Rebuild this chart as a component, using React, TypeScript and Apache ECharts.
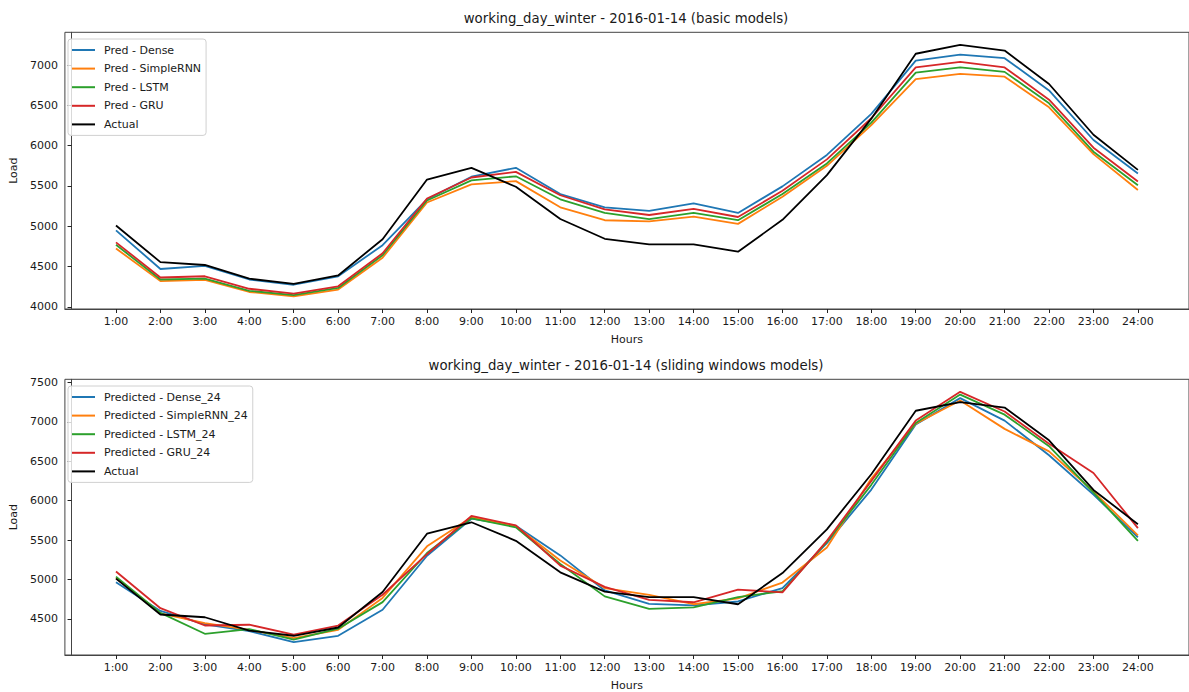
import React, { useEffect, useRef } from "react";
import * as echarts from "echarts";

const hourLabels = ["1:00","2:00","3:00","4:00","5:00","6:00","7:00","8:00","9:00","10:00","11:00","12:00","13:00","14:00","15:00","16:00","17:00","18:00","19:00","20:00","21:00","22:00","23:00","24:00"];
const hourTicks = [1,2,3,4,5,6,7,8,9,10,11,12,13,14,15,16,17,18,19,20,21,22,23,24];

const topTitle = "working_day_winter - 2016-01-14 (basic models)";
const bottomTitle = "working_day_winter - 2016-01-14 (sliding windows models)";

const topYTicks = [4000, 4500, 5000, 5500, 6000, 6500, 7000];
const bottomYTicks = [4500, 5000, 5500, 6000, 6500, 7000, 7500];

const actual = [5010, 4555, 4520, 4350, 4285, 4390, 4840, 5580, 5725, 5490, 5090, 4845, 4775, 4775, 4685, 5080, 5635, 6335, 7140, 7250, 7180, 6765, 6135, 5700];

const topNames = ["Pred - Dense", "Pred - SimpleRNN", "Pred - LSTM", "Pred - GRU", "Actual"];
const predDense = [4950, 4470, 4510, 4340, 4275, 4380, 4765, 5335, 5615, 5725, 5400, 5235, 5190, 5285, 5165, 5495, 5885, 6395, 7055, 7130, 7085, 6685, 6070, 5655];
const predSimpleRNN = [4725, 4320, 4335, 4185, 4130, 4215, 4610, 5295, 5520, 5560, 5235, 5075, 5060, 5120, 5030, 5365, 5750, 6255, 6825, 6890, 6855, 6475, 5895, 5450];
const predLSTM = [4770, 4340, 4350, 4200, 4145, 4235, 4640, 5320, 5570, 5620, 5335, 5165, 5090, 5165, 5075, 5400, 5780, 6285, 6905, 6970, 6915, 6525, 5925, 5510];
const predGRU = [4800, 4365, 4380, 4225, 4165, 4255, 4665, 5345, 5605, 5675, 5385, 5210, 5140, 5215, 5115, 5440, 5830, 6340, 6970, 7040, 6970, 6570, 5975, 5555];

const bottomNames = ["Predicted - Dense_24", "Predicted - SimpleRNN_24", "Predicted - LSTM_24", "Predicted - GRU_24", "Actual"];
const dense24 = [4965, 4600, 4430, 4345, 4205, 4285, 4615, 5300, 5770, 5680, 5305, 4860, 4690, 4670, 4720, 4890, 5460, 6140, 6965, 7300, 7015, 6575, 6075, 5535];
const simpleRNN24 = [5020, 4570, 4445, 4360, 4255, 4360, 4765, 5420, 5790, 5675, 5240, 4890, 4805, 4685, 4760, 4960, 5405, 6280, 6975, 7270, 6910, 6625, 6115, 5560];
const lstm24 = [5035, 4575, 4310, 4370, 4235, 4375, 4712, 5335, 5775, 5660, 5195, 4785, 4625, 4645, 4775, 4850, 5475, 6200, 6985, 7345, 7090, 6690, 6100, 5490];
const gru24 = [5100, 4635, 4415, 4425, 4300, 4415, 4805, 5320, 5805, 5685, 5175, 4905, 4740, 4710, 4870, 4835, 5490, 6250, 7015, 7380, 7130, 6720, 6350, 5650];

const colors = ["#1f77b4", "#ff7f0e", "#2ca02c", "#d62728", "#000000"];

const FONT = "DejaVu Sans";
const TEXT = "#1a1a1a";
const FS = 11;

function pairs(vals: number[]) {
  return vals.map((v, i) => [hourTicks[i], v]);
}

export default function App() {
  const ref = useRef<HTMLDivElement>(null);
  useEffect(() => {
    if (!ref.current) return;
    const chart = echarts.init(ref.current, undefined, { renderer: "svg" });

    const xAxisBase = (gridIndex: number) => ({
      type: "value",
      gridIndex,
      min: 1 - 1.15,
      max: 24 + 1.15,
      name: "Hours",
      nameLocation: "middle",
      nameGap: 25,
      nameTextStyle: { fontFamily: FONT, fontSize: FS, color: TEXT },
      axisLine: { show: true, lineStyle: { color: "#444", width: 1 } },
      axisTick: { show: true, length: 4, lineStyle: { color: "#222", width: 1 }, customValues: hourTicks },
      axisLabel: {
        show: true,
        margin: 7,
        fontFamily: FONT,
        fontSize: FS,
        color: TEXT,
        customValues: hourTicks,
        formatter: (v: number) => hourLabels[Math.round(v) - 1] ?? "",
      },
      splitLine: { show: false },
    });

    const yAxisBase = (gridIndex: number, min: number, max: number, ticks: number[]) => ({
      type: "value",
      gridIndex,
      min,
      max,
      name: "Load",
      nameLocation: "middle",
      nameGap: 34,
      nameTextStyle: { fontFamily: FONT, fontSize: FS, color: TEXT },
      axisLine: { show: true, lineStyle: { color: "#444", width: 1 } },
      axisTick: { show: true, length: 4, lineStyle: { color: "#222", width: 1 }, customValues: ticks },
      axisLabel: {
        show: true, margin: 7, fontFamily: FONT, fontSize: FS, color: TEXT, customValues: ticks,
        formatter: (v: number) => String(Math.round(v)),
      },
      splitLine: { show: false },
    });

    const mkSeries = (name: string, vals: number[], color: string, idx: number) => ({
      type: "line",
      name,
      xAxisIndex: idx,
      yAxisIndex: idx,
      data: pairs(vals),
      symbol: "none",
      showSymbol: false,
      lineStyle: { color, width: 1.8 },
      itemStyle: { color },
      emphasis: { disabled: true },
      silent: true,
    });

    const legendBase = (top: number, data: string[]) => ({
      orient: "vertical",
      left: 68,
      top,
      data,
      selectedMode: false,
      icon: "rect",
      itemWidth: 23,
      itemHeight: 2,
      itemGap: 4.6,
      padding: [4, 5, 4, 4],
      borderColor: "#d0d0d0",
      borderWidth: 1,
      borderRadius: 3,
      backgroundColor: "rgba(255,255,255,0.8)",
      textStyle: { fontFamily: FONT, fontSize: FS, color: TEXT, lineHeight: 14, padding: [0, 0, 0, 4] },
    });

    const option: any = {
      animation: false,
      title: [
        { text: topTitle, left: 626, top: 12, textAlign: "center", padding: 0, textStyle: { fontFamily: FONT, fontSize: 13.3, fontWeight: "normal", color: TEXT } },
        { text: bottomTitle, left: 626, top: 359, textAlign: "center", padding: 0, textStyle: { fontFamily: FONT, fontSize: 13.3, fontWeight: "normal", color: TEXT } },
      ],
      legend: [legendBase(39, topNames), legendBase(386, bottomNames)],
      grid: [
        { left: 62, top: 32.3, width: 1129, height: 276.7, show: true, borderColor: "#444", borderWidth: 1, backgroundColor: "transparent", containLabel: false },
        { left: 62, top: 379.3, width: 1129, height: 275.7, show: true, borderColor: "#444", borderWidth: 1, backgroundColor: "transparent", containLabel: false },
      ],
      xAxis: [xAxisBase(0), xAxisBase(1)],
      yAxis: [yAxisBase(0, 3974, 7406, topYTicks), yAxisBase(1, 4041, 7539, bottomYTicks)],
      series: [
        mkSeries(topNames[0], predDense, colors[0], 0),
        mkSeries(topNames[1], predSimpleRNN, colors[1], 0),
        mkSeries(topNames[2], predLSTM, colors[2], 0),
        mkSeries(topNames[3], predGRU, colors[3], 0),
        mkSeries(topNames[4], actual, colors[4], 0),
        mkSeries(bottomNames[0], dense24, colors[0], 1),
        mkSeries(bottomNames[1], simpleRNN24, colors[1], 1),
        mkSeries(bottomNames[2], lstm24, colors[2], 1),
        mkSeries(bottomNames[3], gru24, colors[3], 1),
        mkSeries(bottomNames[4], actual, colors[4], 1),
      ],
    };
    chart.setOption(option);
    return () => chart.dispose();
  }, []);
  return <div ref={ref} style={{ position: "absolute", left: 0, top: 0, width: 1189, height: 692 }} />;
}
